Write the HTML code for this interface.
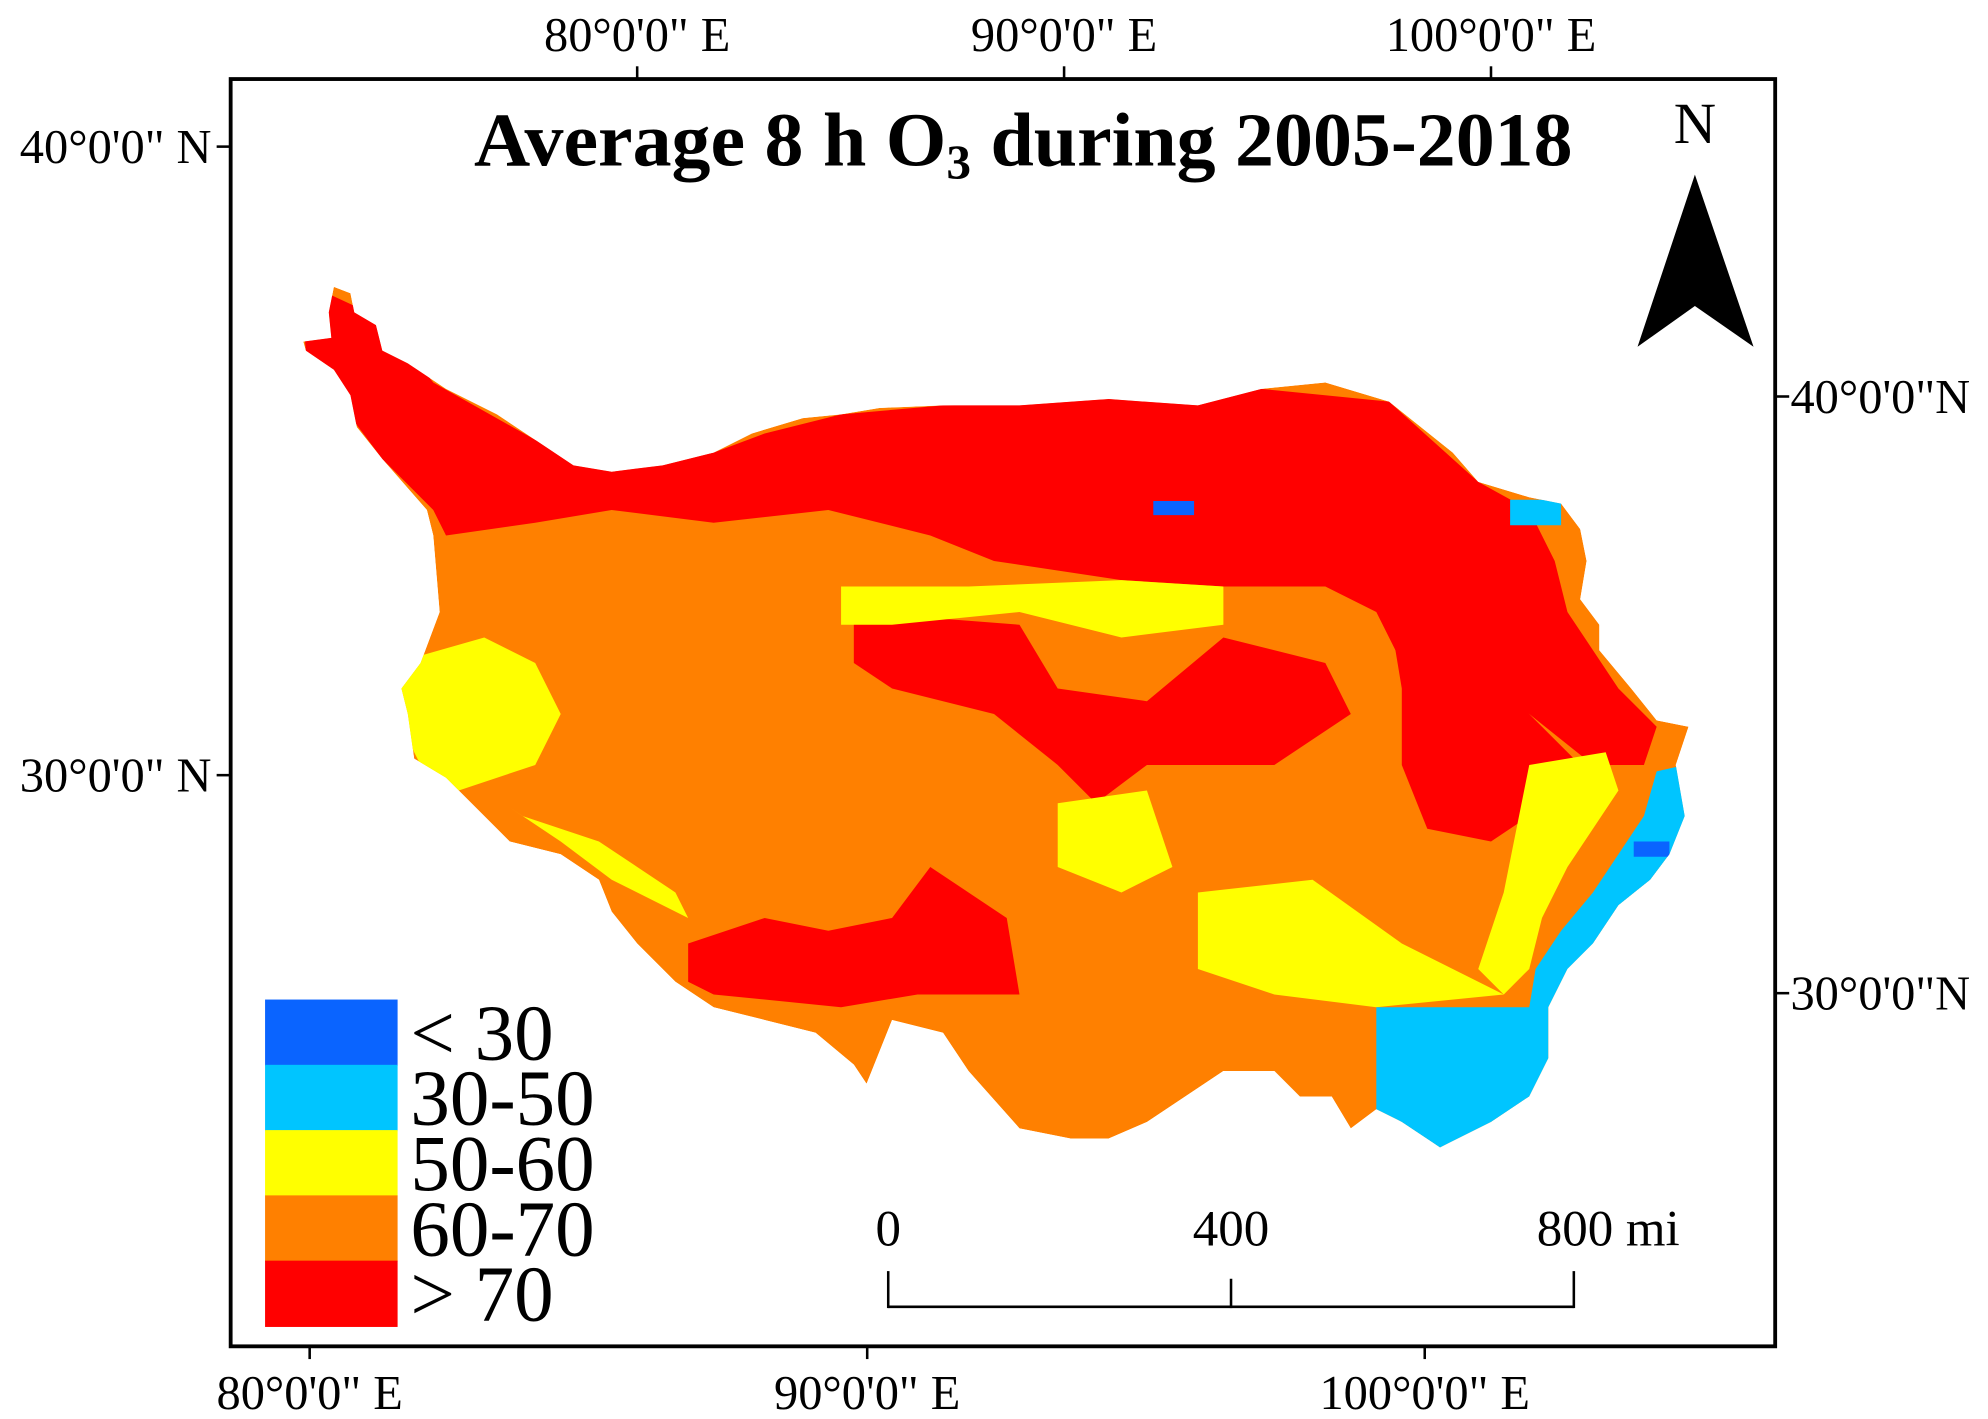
<!DOCTYPE html>
<html><head><meta charset="utf-8"><style>
html,body{margin:0;padding:0;background:#fff;}
svg{display:block;font-family:"Liberation Serif",serif;}
</style></head><body>
<svg width="1988" height="1419" viewBox="0 0 1560 1113" preserveAspectRatio="none">
<defs>
<clipPath id="tp"><path id="outlineClip" d=""/></clipPath>
</defs>
<rect x="181" y="62" width="1212" height="994" fill="#fff" stroke="#000" stroke-width="3"/>
<g id="axes"></g>
<text x="803" y="130" text-anchor="middle" font-size="60" font-weight="bold" textLength="862" lengthAdjust="spacingAndGlyphs">Average 8 h O<tspan font-size="38" dy="10">3</tspan><tspan dy="-10"> during 2005-2018</tspan></text>
<g>
<text x="1330" y="112" text-anchor="middle" font-size="46">N</text>
<polygon points="1330,137 1285,272 1330,240 1376,272" fill="#000"/>
</g>
<g id="map" clip-path="url(#tp)"></g>
<g id="legend"></g>
<g stroke="#000" stroke-width="2" fill="none">
<line x1="697" y1="1025" x2="1235" y2="1025"/>
<line x1="697" y1="997" x2="697" y2="1026"/>
<line x1="966" y1="1003" x2="966" y2="1026"/>
<line x1="1235" y1="997" x2="1235" y2="1026"/>
</g>
<g font-size="40">
<text x="697" y="977" text-anchor="middle">0</text>
<text x="966" y="977" text-anchor="middle">400</text>
<text x="1262" y="977" text-anchor="middle">800 mi</text>
</g>
</svg>
<script>
const categories = ["< 30","30-50","50-60","60-70","> 70"];
const colors = ["#0a64ff","#00c5ff","#ffff00","#ff8000","#ff0000"];
const topTicks = ["80°0'0\" E","90°0'0\" E","100°0'0\" E"];
const topLon = [80,90,100];
const bottomTicks = ["80°0'0\" E","90°0'0\" E","100°0'0\" E"];
const leftTicks = ["40°0'0\" N","30°0'0\" N"];
const rightTicks = ["40°0'0\"N","30°0'0\"N"];
const lat = [40,30];
const ns = "http://www.w3.org/2000/svg";
function topX(l){return 500+(l-80)*33.5;}
function botX(l){return 243+(l-80)*43.75;}
function leftY(a){return 115+(40-a)*49.3;}
function rightY(a){return 311+(40-a)*46.8;}
const axes=document.getElementById('axes');
function mk(tag,attrs,parent){const e=document.createElementNS(ns,tag);for(const k in attrs)e.setAttribute(k,attrs[k]);parent.appendChild(e);return e;}
topLon.forEach((l,i)=>{
  const t=mk('text',{x:topX(l),y:40,'text-anchor':'middle','font-size':38},axes);t.textContent=topTicks[i];
  
  
  mk('line',{x1:topX(l),y1:52,x2:topX(l),y2:62,stroke:'#000','stroke-width':2},axes);
  const b=mk('text',{x:botX(l),y:1105,'text-anchor':'middle','font-size':38},axes);b.textContent=bottomTicks[i];
  
  
  mk('line',{x1:botX(l),y1:1056,x2:botX(l),y2:1066,stroke:'#000','stroke-width':2},axes);
});
lat.forEach((a,i)=>{
  const t=mk('text',{x:166,y:leftY(a)+13,'text-anchor':'end','font-size':38},axes);t.textContent=leftTicks[i];
  
  
  mk('line',{x1:170,y1:leftY(a),x2:181,y2:leftY(a),stroke:'#000','stroke-width':2},axes);
  const r=mk('text',{x:1405,y:rightY(a)+13,'text-anchor':'start','font-size':38},axes);r.textContent=rightTicks[i];
  
  
  mk('line',{x1:1393,y1:rightY(a),x2:1404,y2:rightY(a),stroke:'#000','stroke-width':2},axes);
});
const outline="262,225 275,230 278,245 295,255 300,275 320,285 350,305 390,325 420,345 450,365 480,370 520,365 560,355 590,340 630,328 660,325 690,320 740,318 800,318 870,313 940,318 990,305 1040,300 1090,315 1140,355 1160,378 1200,390 1225,395 1240,415 1245,440 1240,470 1255,490 1255,510 1280,540 1300,565 1325,570 1315,600 1322,640 1310,670 1295,690 1270,710 1250,740 1230,760 1215,790 1215,830 1200,860 1170,880 1130,900 1100,880 1080,870 1060,885 1045,860 1020,860 1000,840 960,840 930,860 900,880 870,893 840,893 800,885 760,840 740,810 700,800 680,850 670,835 640,810 600,800 560,790 530,770 500,740 480,715 470,690 440,670 400,660 380,640 350,610 325,595 320,560 315,540 330,520 345,480 340,420 335,400 300,360 280,335 275,310 262,290 240,275 238,268 260,265 258,245";
document.getElementById('outlineClip').setAttribute('d','M'+outline.replace(/ /g,' L')+' Z');
const zones=[
 [3,outline],
 [4,"235,220 300,250 340,300 420,345 480,370 560,355 600,340 660,325 740,318 870,313 990,305 1090,315 1160,378 1200,400 1220,440 1230,480 1270,540 1300,570 1290,600 1250,600 1200,560 1160,520 1100,520 1080,480 1040,460 960,460 880,455 780,440 730,420 650,400 560,410 480,400 420,410 350,420 340,400 300,360 270,320 240,275"],
 [4,"670,480 800,490 830,540 900,550 960,500 1040,520 1060,560 1000,600 900,600 860,630 830,600 780,560 700,540 670,520"],
 [4,"1090,480 1160,500 1200,560 1240,600 1200,640 1170,660 1120,650 1100,600 1100,540"],
 [4,"540,740 600,720 650,730 700,720 730,680 760,700 790,720 800,780 720,780 660,790 560,780 540,770"],
 [2,"310,520 380,500 420,520 440,560 420,600 360,620 330,600 305,550"],
 [2,"380,620 440,660 480,690 540,720 530,700 470,660 410,640"],
 [2,"660,460 760,460 880,455 960,460 960,490 880,500 800,480 700,490 660,490"],
 [2,"830,630 900,620 920,680 880,700 830,680"],
 [2,"940,700 1030,690 1100,740 1140,760 1180,780 1080,790 1000,780 940,760"],
 [2,"1200,600 1260,590 1270,620 1230,680 1210,720 1200,760 1180,780 1160,760 1180,700"],
 [1,"1080,790 1200,790 1205,760 1225,730 1250,700 1270,670 1290,640 1300,605 1322,600 1330,640 1310,670 1295,690 1270,710 1250,740 1230,760 1215,790 1215,830 1200,860 1170,880 1130,900 1100,880 1080,870"],
 [1,"1185,392 1225,392 1225,412 1185,412"],
 [0,"1282,660 1310,660 1310,672 1282,672"],
 [0,"905,393 937,393 937,404 905,404"]
];
const map=document.getElementById('map');
zones.forEach(z=>{
  const p=mk('polygon',{points:z[1],fill:colors[z[0]]},map);
  
  
});
const leg=document.getElementById('legend');
categories.forEach((c,i)=>{
  const y=784+i*51.2;
  const r=mk('rect',{x:208,y:y,width:104,height:52,fill:colors[i]},leg);
  
  
  const t=mk('text',{x:322,y:y+47,'font-size':62},leg);t.textContent=c;
  
  
});
</script>
</body></html>
